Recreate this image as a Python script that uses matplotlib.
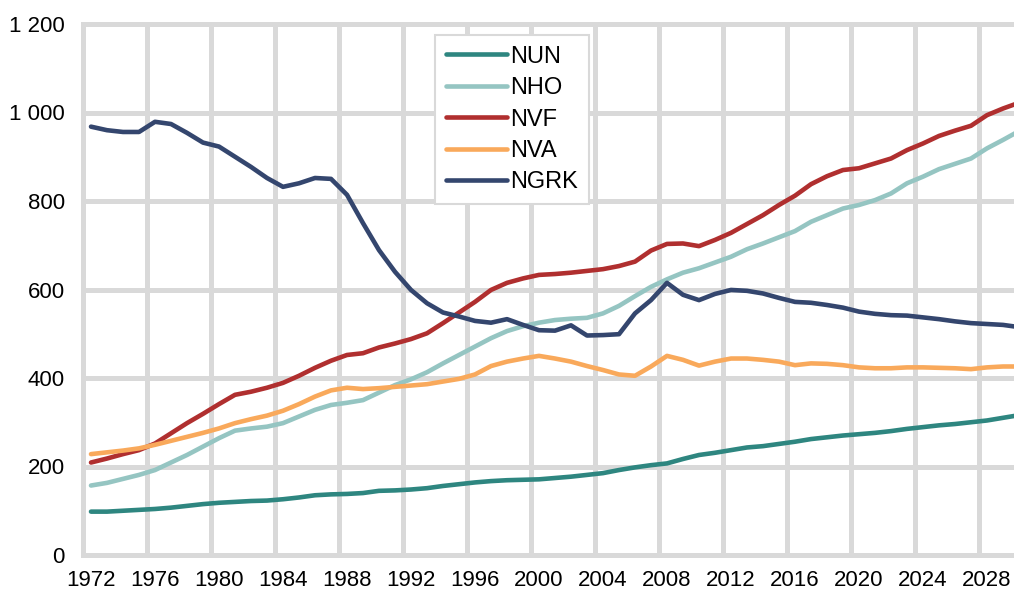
import numpy as np
import matplotlib
matplotlib.use("Agg")
import matplotlib.pyplot as plt
from matplotlib.ticker import FuncFormatter

plt.rcParams['font.family'] = ['Liberation Sans', 'DejaVu Sans']

# data, one value per year 1972-2030
years = list(range(1972, 2031))

nun = [98, 98, 100, 102, 104, 107, 111, 115, 118, 120,
       122, 123, 126, 130, 135, 137, 138, 140, 145, 146,
       148, 151, 156, 160, 164, 167, 169, 170, 171, 174,
       177, 181, 185, 192, 198, 203, 207, 217, 226, 231,
       237, 243, 246, 251, 256, 262, 266, 270, 273, 276,
       280, 285, 289, 293, 296, 300, 304, 310, 316]

nho = [157, 163, 172, 181, 192, 209, 226, 245, 264, 281,
       286, 290, 298, 313, 328, 339, 344, 350, 367, 384,
       397, 413, 433, 452, 471, 490, 506, 517, 525, 531,
       534, 536, 546, 563, 585, 606, 623, 638, 648, 661,
       674, 691, 704, 718, 732, 753, 768, 783, 791, 802,
       817, 840, 855, 872, 884, 896, 919, 938, 958]

nvf = [209, 218, 228, 237, 252, 275, 298, 319, 341, 362,
       369, 378, 389, 405, 423, 439, 452, 456, 469, 478,
       488, 501, 524, 548, 572, 599, 615, 625, 633, 635,
       638, 642, 646, 653, 663, 688, 703, 704, 698, 712,
       728, 748, 768, 791, 812, 838, 856, 870, 874, 885,
       896, 915, 930, 947, 959, 970, 994, 1009, 1022]

nva = [228, 232, 236, 241, 249, 258, 267, 276, 286, 298,
       307, 315, 326, 341, 358, 372, 378, 375, 377, 380,
       383, 386, 392, 398, 408, 427, 437, 444, 450, 444,
       437, 427, 418, 408, 405, 426, 450, 441, 428, 437,
       444, 444, 441, 437, 429, 433, 432, 429, 424, 422,
       422, 424, 424, 423, 422, 420, 424, 426, 426]

ngrk = [968, 960, 956, 956, 979, 974, 954, 932, 923, 900,
        877, 852, 832, 840, 852, 850, 814, 750, 689, 640,
        599, 569, 548, 539, 529, 525, 533, 520, 508, 507,
        519, 496, 497, 499, 546, 576, 615, 588, 576, 590,
        599, 597, 591, 581, 572, 570, 565, 559, 550, 545,
        542, 541, 537, 533, 528, 524, 522, 520, 515]

names = ["NUN", "NHO", "NVF", "NVA", "NGRK"]
colors = ["#2e8680", "#95c5c2", "#b02f2f", "#f9a95b", "#34466e"]
yticks = [0, 200, 400, 600, 800, 1000, 1200]
xticks = list(range(1972, 2029, 4))

fig = plt.figure(figsize=(10.14, 5.92), dpi=100)
# plot area runs past the right edge of the picture, as in the original
ax = fig.add_axes([83/1014, 37/592, 944/1014, 531/592])

grid = "#d9d9d9"
for v in yticks:
    ax.axhline(v, color=grid, lw=3.6, zorder=0, clip_on=False)
for xv in np.arange(1971.5, 2032, 4):
    ax.axvline(xv, color=grid, lw=3.6, zorder=0, clip_on=False)

for s, c, n in zip([nun, nho, nvf, nva, ngrk], colors, names):
    ax.plot(years, s, color=c, lw=3.3, label=n, zorder=2,
            solid_capstyle="round", solid_joinstyle="round")

ax.set_xlim(1971.5, 2030.5)
ax.set_ylim(0, 1200)
ax.set_xticks(xticks)
ax.set_yticks(yticks)
ax.yaxis.set_major_formatter(FuncFormatter(lambda v, p: f"{int(v):,}".replace(",", " ")))
ax.tick_params(length=0, labelsize=16)
ax.tick_params(axis="y", pad=13)
ax.tick_params(axis="x", pad=11)
for sp in ax.spines.values():
    sp.set_visible(False)

leg = ax.legend(loc="upper left", bbox_to_anchor=(435/1014, 1 - 35/592),
                bbox_transform=fig.transFigure, borderaxespad=0,
                fontsize=17, handlelength=2.6, handletextpad=0.15,
                labelspacing=0.4, borderpad=0.45, fancybox=False)
leg.get_frame().set_edgecolor(grid)
leg.get_frame().set_linewidth(1.5)
leg.get_frame().set_alpha(1)
leg.set_zorder(5)
for h in leg.get_lines():
    h.set_solid_capstyle("round")

fig.savefig("out.png", dpi=100)
